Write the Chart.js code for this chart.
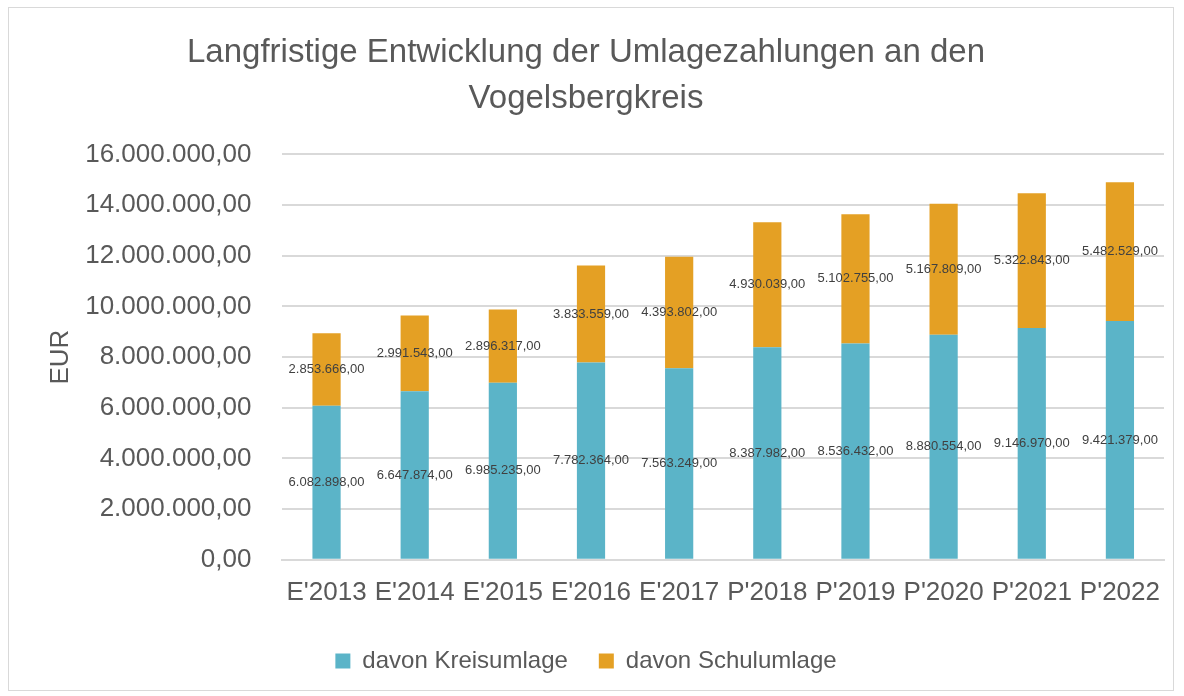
<!DOCTYPE html>
<html>
<head>
<meta charset="utf-8">
<script src="https://cdn.jsdelivr.net/npm/chart.js@4"></script>
<style>
  html, body { margin: 0; padding: 0; background: #fff; }
  #frame { position: absolute; left: 8px; top: 7px; width: 1166px; height: 684px; border: 1px solid #d9d9d9; box-sizing: border-box; }
  #wrap { position: absolute; left: 0; top: 0; width: 1184px; height: 696px; }
</style>
</head>
<body>
<div id="frame"></div>
<div id="wrap"><canvas id="chart" width="1184" height="696"></canvas></div>
<script>
// Chart data
const years = ["E'2013", "E'2014", "E'2015", "E'2016", "E'2017", "P'2018", "P'2019", "P'2020", "P'2021", "P'2022"];
const kreisumlage = [6082898, 6647874, 6985235, 7782364, 7563249, 8387982, 8536432, 8880554, 9146970, 9421379];
const schulumlage = [2853666, 2991543, 2896317, 3833559, 4393802, 4930039, 5102755, 5167809, 5322843, 5482529];

const FONT = "'Liberation Sans Narrow', 'Arial Narrow', 'Liberation Sans', sans-serif";
const GREY = '#595959';

const fmt = new Intl.NumberFormat('de-DE', { minimumFractionDigits: 2, maximumFractionDigits: 2 });

// Draw value labels in the middle of each bar segment
const segmentLabels = {
  id: 'segmentLabels',
  afterDatasetsDraw(chart) {
    const ctx = chart.ctx;
    ctx.save();
    ctx.font = '13px ' + FONT;
    ctx.fillStyle = '#404040';
    ctx.textAlign = 'center';
    ctx.textBaseline = 'middle';
    chart.data.datasets.forEach(function(ds, i) {
      chart.getDatasetMeta(i).data.forEach(function(bar, j) {
        const mid = (bar.y + bar.base) / 2;
        ctx.fillText(fmt.format(ds.data[j]), bar.x, mid);
      });
    });
    ctx.restore();
  }
};

new Chart(document.getElementById('chart'), {
  type: 'bar',
  data: {
    labels: years,
    datasets: [
      { label: 'davon Kreisumlage', data: kreisumlage, backgroundColor: '#5bb4c8' },
      { label: 'davon Schulumlage', data: schulumlage, backgroundColor: '#e4a024' }
    ]
  },
  options: {
    responsive: false,
    animation: false,
    layout: { padding: { left: 8, right: 20, top: 30, bottom: 13 } },
    datasets: { bar: { categoryPercentage: 1, barPercentage: 0.32 } },
    plugins: {
      title: {
        display: true,
        text: ['Langfristige Entwicklung der Umlagezahlungen an den', 'Vogelsbergkreis'],
        color: GREY,
        font: { family: FONT, size: 33, weight: 'normal', lineHeight: 1.4 },
        padding: { top: 0, bottom: 32 }
      },
      legend: {
        position: 'bottom',
        labels: {
          color: GREY,
          font: { family: FONT, size: 24 },
          boxWidth: 15,
          boxHeight: 15,
          padding: 31
        }
      },
      tooltip: { enabled: false }
    },
    scales: {
      x: {
        stacked: true,
        grid: { display: false },
        border: { color: '#d9d9d9', width: 2 },
        ticks: { color: GREY, font: { family: FONT, size: 26, lineHeight: 0.7 }, padding: 16, maxRotation: 0 }
      },
      y: {
        stacked: true,
        min: 0,
        max: 16000000,
        title: { display: true, text: 'EUR', color: GREY, font: { family: FONT, size: 26 }, padding: { top: 37, bottom: -22 } },
        grid: { color: '#d9d9d9', lineWidth: 2, drawTicks: false },
        border: { display: false },
        ticks: {
          stepSize: 2000000,
          color: GREY,
          padding: 31,
          font: { family: FONT, size: 26 },
          callback: function(v) { return fmt.format(v); }
        }
      }
    }
  },
  plugins: [segmentLabels]
});
</script>
</body>
</html>
